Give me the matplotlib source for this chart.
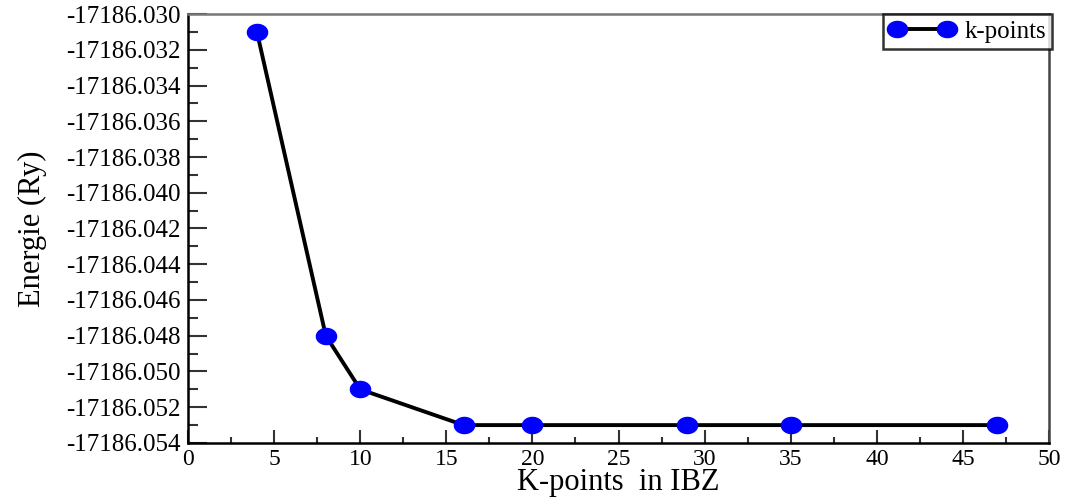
import numpy as np
import matplotlib
matplotlib.use("Agg")
import matplotlib.pyplot as plt
from matplotlib.path import Path
from matplotlib.ticker import MultipleLocator, FuncFormatter

# k-point convergence test
kpoints = [4, 8, 10, 16, 20, 29, 35, 47]
energy = [-17186.031, -17186.048, -17186.051, -17186.053,
          -17186.053, -17186.053, -17186.053, -17186.053]

plt.rcParams['font.family'] = ['Liberation Serif', 'DejaVu Serif']
plt.rcParams['axes.unicode_minus'] = False

# slightly flattened circle for the markers
t = np.linspace(0, 2 * np.pi, 60)
ellipse = Path(np.column_stack([1.25 * np.cos(t), np.sin(t)]), closed=True)

fig = plt.figure(figsize=(10.66, 4.97), dpi=100)
ax = fig.add_axes([0.1764, 0.1087, 0.8077, 0.8631])

ax.plot(kpoints, energy, color='black', lw=2.8, marker=ellipse,
        markersize=14.5, markerfacecolor='blue', markeredgecolor='blue',
        label='k-points')

ax.set_xlim(0, 50)
ax.set_ylim(-17186.054, -17186.030)
ax.xaxis.set_major_locator(MultipleLocator(5))
ax.xaxis.set_minor_locator(MultipleLocator(2.5))
ax.yaxis.set_major_locator(MultipleLocator(0.002))
ax.yaxis.set_minor_locator(MultipleLocator(0.001))
ax.yaxis.set_major_formatter(FuncFormatter(lambda v, pos: '%.3f' % v))

ax.tick_params(axis='both', which='both', direction='in',
               width=1.5, color='#333333')
ax.tick_params(axis='y', which='major', length=13.5, pad=5, labelsize=18)
ax.tick_params(axis='y', which='minor', length=7)
ax.tick_params(axis='x', which='major', length=9.5, pad=4, labelsize=17)
ax.tick_params(axis='x', which='minor', length=4.5)

for side in ['left', 'bottom']:
    ax.spines[side].set_linewidth(1.8)
    ax.spines[side].set_color('black')
ax.spines['top'].set_color('#777777')
ax.spines['right'].set_color('#444444')
ax.spines['top'].set_linewidth(1.8)
ax.spines['right'].set_linewidth(1.8)

ax.set_xlabel('K-points  in IBZ', fontsize=22, labelpad=-1)
ax.set_ylabel('Energie (Ry)', fontsize=22, labelpad=14)

leg = ax.legend(loc='upper right', bbox_to_anchor=(1.004, 1.0), numpoints=2,
                fontsize=18, frameon=True, fancybox=False, borderpad=0.25,
                handlelength=2.6, handletextpad=0.4, borderaxespad=0)
leg.get_frame().set_edgecolor('black')
leg.get_frame().set_linewidth(1.8)

fig.savefig('out.png', dpi=100)
